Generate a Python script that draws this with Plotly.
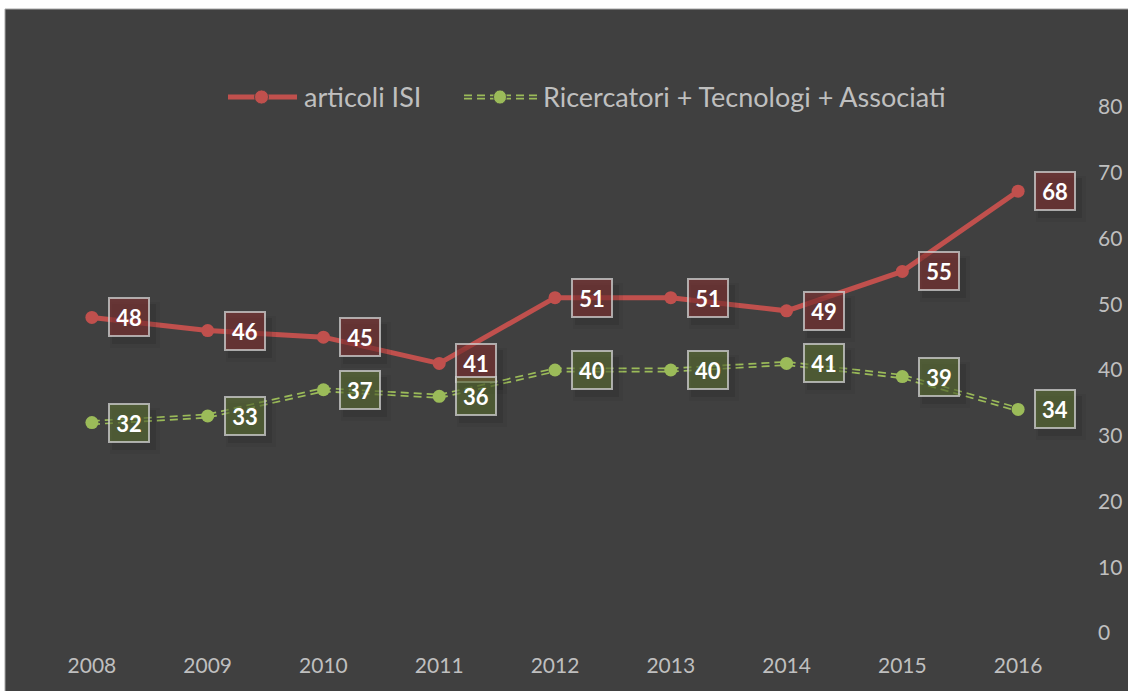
import plotly.graph_objects as go

years = ["2008", "2009", "2010", "2011", "2012", "2013", "2014", "2015", "2016"]
articoli_isi = [48, 46, 45, 41, 51, 51, 49, 55, 67.2]
articoli_labels = ["48", "46", "45", "41", "51", "51", "49", "55", "68"]
ricercatori = [32, 33, 37, 36, 40, 40, 41, 39, 34]
ricercatori_labels = ["32", "33", "37", "36", "40", "40", "41", "39", "34"]
y_ticks = [0, 10, 20, 30, 40, 50, 60, 70, 80]
series_names = ["articoli ISI", "Ricercatori + Tecnologi + Associati"]

BG = "#404040"
RED = "#c0504d"
GREEN = "#9bbb59"
FONT = "Lato"
TXT = "#bfbfbf"

W, H = 1128, 691
ML, MR, MT, MB = 34, 52, 107, 58
PW, PH = W - ML - MR, H - MT - MB

def px(xp):
    return (xp - ML) / PW

def py(yp):
    return 1 - (yp - MT) / PH

fig = go.Figure()

# green compound dashed line (double stroke)
fig.add_trace(go.Scatter(
    x=years, y=ricercatori, mode="lines", name=series_names[1], showlegend=False,
    line=dict(color=GREEN, width=5, dash="8px,5px"),
))
fig.add_trace(go.Scatter(
    x=years, y=ricercatori, mode="lines", showlegend=False, hoverinfo="skip",
    line=dict(color=BG, width=1.6),
))
fig.add_trace(go.Scatter(
    x=years, y=ricercatori, mode="markers", showlegend=False, name=series_names[1],
    marker=dict(color=GREEN, size=13),
))
# red line
fig.add_trace(go.Scatter(
    x=years, y=articoli_isi, mode="lines+markers", name=series_names[0], showlegend=False,
    line=dict(color=RED, width=5),
    marker=dict(color=RED, size=13),
))

annotations = []
def add_labels(vals, labels, bg):
    for i, yv in enumerate(vals):
        for (sx, sy, w, h, a) in ((6, -8, 48, 44, 0.08), (5, -7, 42, 38, 0.12)):
            annotations.append(dict(
                x=i, y=yv, xref="x", yref="y", text="&nbsp;", showarrow=False,
                xshift=37 + sx, yshift=sy, width=w, height=h,
                bgcolor="rgba(20,20,20,%s)" % a, borderwidth=0,
            ))
    for i, (yv, t) in enumerate(zip(vals, labels)):
        annotations.append(dict(
            x=i, y=yv, xref="x", yref="y", text="<b>%s</b>" % t, showarrow=False,
            xshift=37, yshift=0, width=36, height=34,
            bgcolor=bg, bordercolor="rgba(210,210,210,0.75)", borderwidth=2, borderpad=1,
            font=dict(family=FONT, size=22, color="#ffffff"),
        ))

add_labels(articoli_isi, articoli_labels, "rgba(130,48,48,0.6)")
add_labels(ricercatori, ricercatori_labels, "rgba(92,112,50,0.6)")

# background panel with white frame at top/left
shapes = [dict(
    type="rect", xref="paper", yref="paper", layer="below",
    x0=px(5), x1=px(W + 20), y0=py(H + 20), y1=py(9),
    fillcolor=BG, line=dict(color="#a6a6a6", width=1),
)]

# custom legend (wider symbols as in the reference)
LY = 97
shapes.append(dict(type="line", xref="paper", yref="paper", x0=px(228), x1=px(297),
                   y0=py(LY), y1=py(LY), line=dict(color=RED, width=5)))
shapes.append(dict(type="circle", xref="paper", yref="paper", x0=px(254.5), x1=px(268.5),
                   y0=py(LY + 7), y1=py(LY - 7), fillcolor=RED,
                   line=dict(color=BG, width=0.8)))
for dy in (-1.6, 1.6):
    shapes.append(dict(type="line", xref="paper", yref="paper", x0=px(464), x1=px(537),
                       y0=py(LY + dy), y1=py(LY + dy),
                       line=dict(color=GREEN, width=1.6, dash="8px,5px")))
shapes.append(dict(type="circle", xref="paper", yref="paper", x0=px(493.5), x1=px(506.5),
                   y0=py(LY + 7), y1=py(LY - 7), fillcolor=GREEN,
                   line=dict(color=BG, width=0.8)))
annotations.append(dict(x=px(302), y=py(LY), xref="paper", yref="paper", text=series_names[0],
                        showarrow=False, xanchor="left", yanchor="middle",
                        font=dict(family=FONT, size=27, color=TXT)))
annotations.append(dict(x=px(541), y=py(LY), xref="paper", yref="paper", text=series_names[1],
                        showarrow=False, xanchor="left", yanchor="middle",
                        font=dict(family=FONT, size=27, color=TXT)))

fig.update_layout(
    width=W, height=H,
    margin=dict(l=ML, r=MR, t=MT, b=MB, autoexpand=False),
    paper_bgcolor="#ffffff", plot_bgcolor="rgba(0,0,0,0)",
    font=dict(family=FONT, color=TXT),
    showlegend=False,
    annotations=annotations,
    shapes=shapes,
    xaxis=dict(
        type="category", range=[-0.5, 8.5], showgrid=False, zeroline=False,
        showline=False, ticks="", ticklabelstandoff=18, automargin=False,
        tickfont=dict(family=FONT, size=21, color=TXT),
    ),
    yaxis=dict(
        side="right", range=[0, 80], tickvals=y_ticks, showgrid=False,
        zeroline=False, showline=False, ticks="", ticklabelstandoff=21, automargin=False,
        tickfont=dict(family=FONT, size=21, color=TXT),
    ),
)

fig.write_html("out.html", config={"displayModeBar": False},
               post_script="document.body.style.margin='0';document.body.style.overflow='hidden';")
